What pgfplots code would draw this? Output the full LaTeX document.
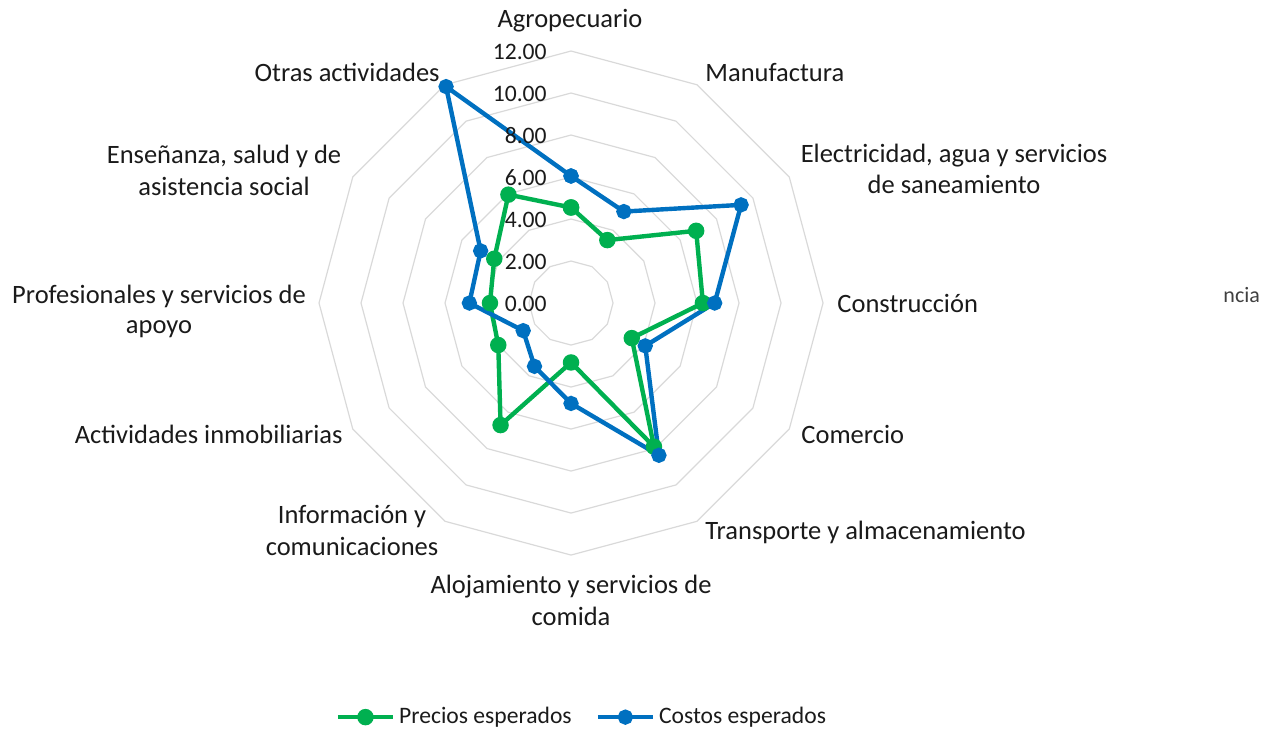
\documentclass[border=0pt]{standalone}
\usepackage{fontspec}
\setmainfont{Carlito}
\usepackage{pgfplots}
\pgfplotsset{compat=1.18}
\usepackage{pgfplotstable}

\definecolor{verde}{HTML}{00B050}
\definecolor{azul}{HTML}{0070C0}
\definecolor{rejilla}{HTML}{D9D9D9}
\definecolor{texto}{HTML}{1A1A1A}

% angle (clockwise from top), precios, costos
\pgfplotstableread{
a   p     c
0   4.55  6.05
30  3.46  5.03
60  6.88  9.35
90  6.28  6.84
120 3.34  4.08
150 7.90  8.37
180 2.83  4.78
210 6.71  3.48
240 4.00  2.63
270 3.86  4.84
300 4.22  4.97
330 5.96  11.90
360 4.55  6.05
}\datos

\begin{document}
\begin{tikzpicture}
\begin{axis}[
  x=10.5pt, y=10.5pt,
  xmin=-27.19, xmax=32.95, ymin=-20.29, ymax=14.43,
  hide axis, clip=false,
  legend style={at={(0.4615,0.0165)}, anchor=center, draw=none, fill=none,
    legend columns=2, font=\fontsize{11.8pt}{14pt}\selectfont, text=texto,
    nodes={inner xsep=2pt},
    /tikz/every even column/.append style={column sep=10pt}},
  legend image code/.code={\draw[mark repeat=2,mark phase=2,#1]
    plot coordinates {(0pt,0pt)(13.75pt,0pt)(27.5pt,0pt)};},
]
\pgfplotsinvokeforeach{2,4,6,8,10,12}{
  \addplot[rejilla, line width=0.6pt, forget plot]
    table[x expr={#1*sin(\thisrow{a})}, y expr={#1*cos(\thisrow{a})}] {\datos};
}
\addplot[verde, line width=2.2pt, mark=*, mark size=3pt, mark options={fill=verde}]
  table[x expr={\thisrow{p}*sin(\thisrow{a})}, y expr={\thisrow{p}*cos(\thisrow{a})}] {\datos};
\addlegendentry{Precios esperados}
\addplot[azul, line width=2.2pt, mark=*, mark size=2.7pt, mark options={fill=azul}]
  table[x expr={\thisrow{c}*sin(\thisrow{a})}, y expr={\thisrow{c}*cos(\thisrow{a})}] {\datos};
\addlegendentry{Costos esperados}
\coordinate (TL) at (rel axis cs:0,1);
\coordinate (BR) at (rel axis cs:1,0);
\end{axis}
\pgfresetboundingbox
\path[use as bounding box] (TL) rectangle (BR);
\begin{scope}[shift={(TL)}, x=0.5pt, y=-0.5pt, inner sep=0pt, text=texto]
  % radial tick labels
  \begin{scope}[font=\fontsize{11.8pt}{14pt}\selectfont]
    \foreach \r/\t in {0/0.00,2/2.00,4/4.00,6/6.00,8/8.00,10/10.00,12/12.00}
      \node[anchor=east] at (547,{304-21*\r}) {\t};
  \end{scope}
  % category labels
  \begin{scope}[font=\fontsize{13.25pt}{15pt}\selectfont]
    \node[anchor=base] at (570,28) {Agropecuario};
    \node[anchor=base west] at (705,82) {Manufactura};
    \node[anchor=base] at (954,162) {Electricidad, agua y servicios};
    \node[anchor=base] at (954,193) {de saneamiento};
    \node[anchor=base west] at (837,312) {Construcción};
    \node[anchor=base west] at (801,443) {Comercio};
    \node[anchor=base west] at (705,539) {Transporte y almacenamiento};
    \node[anchor=base] at (571,593) {Alojamiento y servicios de};
    \node[anchor=base] at (571,625) {comida};
    \node[anchor=base] at (352,523) {Información y};
    \node[anchor=base] at (352,555) {comunicaciones};
    \node[anchor=base east] at (343,443) {Actividades inmobiliarias};
    \node[anchor=base] at (159,303) {Profesionales y servicios de};
    \node[anchor=base] at (159,333) {apoyo};
    \node[anchor=base] at (224,163) {Enseñanza, salud y de};
    \node[anchor=base] at (224,195) {asistencia social};
    \node[anchor=base east] at (440,82) {Otras actividades};
  \end{scope}
  \node[anchor=base west, text=black!75, font=\fontsize{11pt}{13pt}\selectfont] at (1223,302) {ncia};
\end{scope}
\end{tikzpicture}
\end{document}
